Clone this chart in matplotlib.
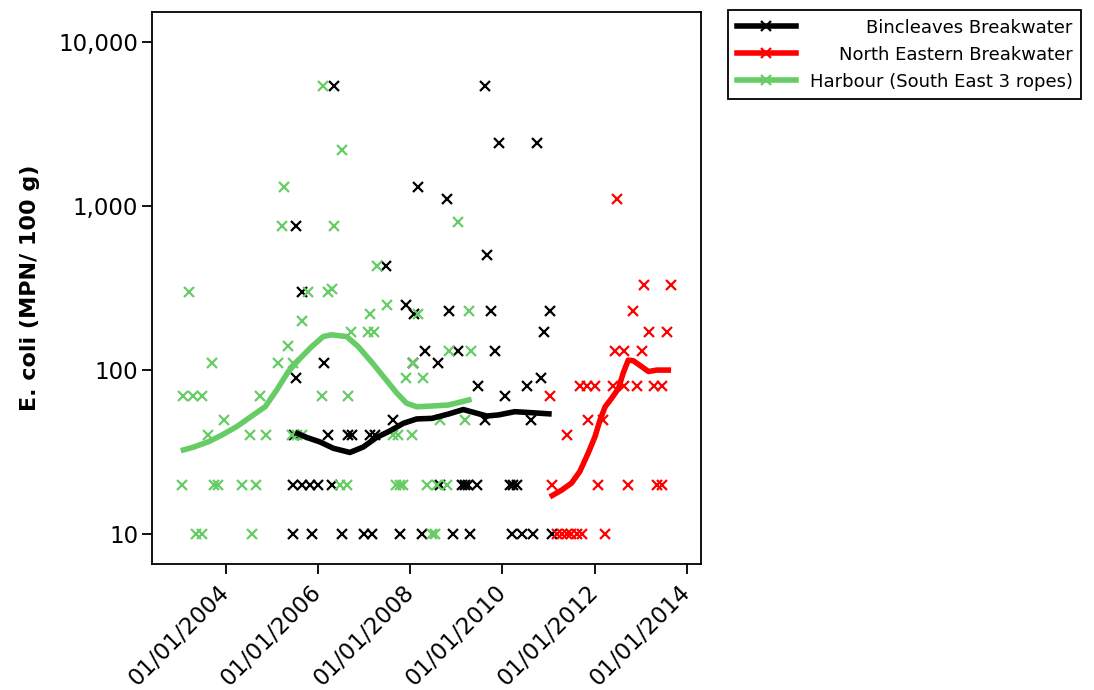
import numpy as np
import datetime as dt
import matplotlib
matplotlib.use("Agg")
import matplotlib.pyplot as plt
from matplotlib.ticker import FixedLocator, FixedFormatter, NullLocator

# ---------------- data (decimal years, E. coli MPN/100 g) ----------------
series_names = ["Bincleaves Breakwater", "North Eastern Breakwater",
                "Harbour (South East 3 ropes)"]
series_colors = ["#000000", "#FF0000", "#66CC66"]

bincleaves_t = [2005.46, 2005.46, 2005.48, 2005.51, 2005.51, 2005.64, 2005.64, 2005.82,
                2005.86, 2006.00, 2006.13, 2006.22, 2006.29, 2006.35, 2006.51, 2006.65,
                2006.73, 2006.99, 2007.13, 2007.23, 2007.17, 2007.47, 2007.62, 2007.78,
                2007.91, 2008.05, 2008.09, 2008.17, 2008.25, 2008.33, 2008.61, 2008.65,
                2008.79, 2008.84, 2008.92, 2009.04, 2009.12, 2009.19, 2009.26, 2009.30,
                2009.44, 2009.48, 2009.62, 2009.62, 2009.66, 2009.75, 2009.84, 2009.93,
                2010.06, 2010.16, 2010.20, 2010.24, 2010.31, 2010.42, 2010.53, 2010.61,
                2010.67, 2010.74, 2010.83, 2010.91, 2011.04, 2011.07]
bincleaves_v = [10, 20, 40, 750, 90, 20, 300, 20,
                10, 20, 110, 40, 20, 5400, 10, 40,
                40, 10, 40, 40, 10, 430, 50, 10,
                250, 110, 220, 1300, 10, 130, 110, 20,
                1100, 230, 10, 130, 20, 20, 20, 10,
                20, 80, 50, 5400, 500, 230, 130, 2400,
                70, 20, 10, 20, 20, 10, 80, 50,
                10, 2400, 90, 170, 230, 10]

northeast_t = [2011.04, 2011.07, 2011.18, 2011.29, 2011.40, 2011.50, 2011.61, 2011.72,
               2011.40, 2011.68, 2011.84, 2011.86, 2012.01, 2012.08, 2012.19, 2012.23,
               2012.40, 2012.44, 2012.48, 2012.63, 2012.64, 2012.73, 2012.83, 2012.92,
               2013.02, 2013.08, 2013.19, 2013.28, 2013.35, 2013.46, 2013.46, 2013.58,
               2013.66]
northeast_v = [70, 20, 10, 10, 10, 10, 10, 10,
               40, 80, 80, 50, 80, 20, 50, 10,
               80, 130, 1100, 130, 80, 20, 230, 80,
               130, 330, 170, 80, 20, 20, 80, 170,
               330]

harbour_t = [2003.04, 2003.07, 2003.20, 2003.29, 2003.36, 2003.47, 2003.49, 2003.62,
             2003.69, 2003.74, 2003.83, 2003.96, 2004.34, 2004.52, 2004.56, 2004.65,
             2004.74, 2004.86, 2005.12, 2005.22, 2005.26, 2005.35, 2005.43, 2005.46,
             2005.53, 2005.64, 2005.64, 2005.79, 2006.08, 2006.11, 2006.22, 2006.31,
             2006.35, 2006.47, 2006.52, 2006.62, 2006.65, 2006.72, 2007.09, 2007.13,
             2007.21, 2007.27, 2007.49, 2007.63, 2007.70, 2007.74, 2007.77, 2007.84,
             2007.91, 2008.03, 2008.05, 2008.17, 2008.27, 2008.36, 2008.47, 2008.54,
             2008.57, 2008.65, 2008.79, 2008.83, 2009.04, 2009.19, 2009.27, 2009.31]
harbour_v = [20, 70, 300, 70, 10, 10, 70, 40,
             110, 20, 20, 50, 20, 40, 10, 20,
             70, 40, 110, 750, 1300, 140, 40, 110,
             40, 40, 200, 300, 70, 5400, 300, 310,
             750, 20, 2200, 20, 70, 170, 170, 220,
             170, 430, 250, 40, 20, 40, 20, 20,
             90, 40, 110, 220, 90, 20, 10, 10,
             20, 50, 20, 130, 800, 50, 230, 130]

# smoothed trend lines
bincleaves_trend_t = [2005.50, 2005.75, 2006.04, 2006.33, 2006.69, 2006.98, 2007.27,
                      2007.56, 2007.85, 2008.14, 2008.47, 2008.83, 2009.15, 2009.40,
                      2009.66, 2009.91, 2010.27, 2010.64, 2011.07]
bincleaves_trend_v = [41.7, 38.9, 36.5, 33.4, 31.5, 34.0, 38.9,
                      42.6, 47.4, 50.4, 50.8, 54.0, 57.5, 55.0,
                      52.5, 53.3, 55.8, 55.0, 54.0]

northeast_trend_t = [2011.03, 2011.29, 2011.50, 2011.68, 2011.86, 2012.01, 2012.12,
                     2012.23, 2012.37, 2012.52, 2012.62, 2012.73, 2012.84, 2013.02,
                     2013.17, 2013.35, 2013.66]
northeast_trend_v = [16.9, 18.6, 20.5, 24.1, 31.1, 39.3, 49.7,
                     59.8, 67.3, 77.4, 95.7, 115, 114, 105,
                     98, 100, 100]

harbour_trend_t = [2003.02, 2003.29, 2003.62, 2003.91, 2004.23, 2004.56, 2004.85,
                   2005.10, 2005.35, 2005.61, 2005.86, 2006.11, 2006.29, 2006.62,
                   2006.87, 2007.16, 2007.45, 2007.71, 2007.92, 2008.14, 2008.47,
                   2008.83, 2009.12, 2009.33]
harbour_trend_v = [32.3, 33.9, 36.6, 40.2, 45.2, 52.5, 59.8,
                   75.6, 97.8, 118, 139, 160, 164, 160,
                   139, 112, 89, 72.3, 62.8, 59.8, 60.4,
                   61.3, 64.2, 66.4]

y_ticks = [10, 100, 1000, 10000]
y_tick_labels = ["10", "100", "1,000", "10,000"]
x_tick_years = [2004, 2006, 2008, 2010, 2012, 2014]
x_tick_labels = ["01/01/2004", "01/01/2006", "01/01/2008",
                 "01/01/2010", "01/01/2012", "01/01/2014"]


def to_date(y):
    year = int(np.floor(y))
    start = dt.datetime(year, 1, 1)
    end = dt.datetime(year + 1, 1, 1)
    return start + (end - start) * (y - year)


def dates(ts):
    return [to_date(t) for t in ts]


# ---------------- figure ----------------
plt.rcParams['font.family'] = ['DejaVu Sans']
fig = plt.figure(figsize=(10.94, 6.90), dpi=100)
ax = fig.add_axes([152 / 1094, 1 - 564 / 690, (701 - 152) / 1094, (564 - 12) / 690])

points = [(bincleaves_t, bincleaves_v), (northeast_t, northeast_v), (harbour_t, harbour_v)]
trends = [(bincleaves_trend_t, bincleaves_trend_v), (northeast_trend_t, northeast_trend_v),
          (harbour_trend_t, harbour_trend_v)]

handles = []
for name, col, (pt, pv), (tt, tv) in zip(series_names, series_colors, points, trends):
    ax.plot(dates(pt), pv, ls='none', marker='x', ms=7, mew=1.6, color=col, zorder=3)
    ax.plot(dates(tt), tv, ls='-', lw=4.0, color=col, solid_capstyle='butt', zorder=4)
    h, = ax.plot([], [], ls='-', lw=4.0, color=col, marker='x', ms=7, mew=1.6)
    handles.append(h)

ax.set_yscale('log')
ax.set_ylim(6.59, 15170)
ax.set_xlim(to_date(2002.394), to_date(2014.31))

ax.yaxis.set_major_locator(FixedLocator(y_ticks))
ax.yaxis.set_major_formatter(FixedFormatter(y_tick_labels))
ax.yaxis.set_minor_locator(NullLocator())

ax.set_xticks([dt.datetime(y, 1, 1) for y in x_tick_years])
ax.set_xticklabels(x_tick_labels, rotation=45, ha='right', va='center',
                   rotation_mode='anchor')

ax.tick_params(axis='both', direction='out', length=7, width=1.3, colors='black')
ax.tick_params(axis='y', labelsize=16.5, pad=3)
ax.tick_params(axis='x', labelsize=16.5, pad=11)

for s in ax.spines.values():
    s.set_linewidth(1.3)
    s.set_color('black')

ax.set_ylabel("E. coli (MPN/ 100 g)", fontsize=16, fontweight='bold', labelpad=13)

leg = fig.legend(handles, series_names, loc='upper left',
                 bbox_to_anchor=(728 / 1094, 1 - 10 / 690), bbox_transform=fig.transFigure,
                 fontsize=13, frameon=True, fancybox=False, framealpha=1,
                 edgecolor='black', borderaxespad=0, handlelength=3.3,
                 handletextpad=0.6, labelspacing=0.5, borderpad=0.48)
leg.get_frame().set_linewidth(1.3)

# right-align the legend labels while keeping handles at the left
try:
    for col in leg._legend_handle_box.get_children():
        for hp in col.get_children():
            hp.width = 336
            hp.mode = 'expand'
except Exception:
    pass

fig.savefig("out.png", dpi=100)
